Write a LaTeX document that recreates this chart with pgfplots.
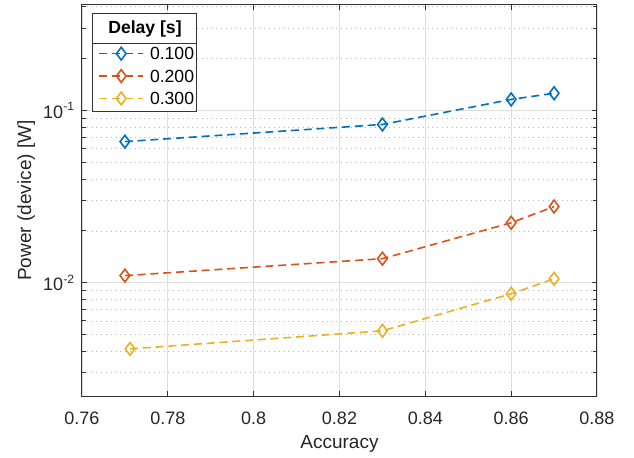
\documentclass[border=0pt]{standalone}
\usepackage{fontspec}
\setmainfont{Liberation Sans}
\usepackage{pgfplots}
\pgfplotsset{compat=1.18}
\usetikzlibrary{calc}

\definecolor{mblue}{RGB}{0,114,189}
\definecolor{mred}{RGB}{217,83,25}
\definecolor{myel}{RGB}{237,177,32}

\begin{document}
\begin{tikzpicture}
\begin{axis}[
    scale only axis, width=257.5pt, height=195.5pt,
    xmin=0.76, xmax=0.88, ymode=log, ymin=0.0022, ymax=0.41,
    xtick={0.76,0.78,0.80,0.82,0.84,0.86,0.88},
    xticklabels={0.76,0.78,0.8,0.82,0.84,0.86,0.88},
    ytick={0.01,0.1},
    yticklabels={10\textsuperscript{-2},10\textsuperscript{-1}},
    minor ytick={0.003,0.004,0.005,0.006,0.007,0.008,0.009,0.02,0.03,0.04,0.05,0.06,0.07,0.08,0.09,0.2,0.3,0.4},
    grid=both,
    major grid style={solid, line width=0.4pt, color=black!13},
    minor grid style={dotted, line width=0.35pt, color=black!28},
    tick align=inside, major tick length=2.5pt, minor tick length=2pt,
    axis line style={black!80, line width=0.5pt},
    every tick/.style={black!80, line width=0.5pt},
    ticklabel style={font=\fontsize{9}{10}\selectfont, text=black!85},
    xticklabel style={yshift=-4.5pt},
    xlabel={Accuracy}, ylabel={Power (device) [W]},
    label style={font=\fontsize{9.5}{11}\selectfont, text=black!85},
    xlabel style={at={(axis description cs:0.5,-0.1330)}, anchor=base},
    ylabel style={at={(axis description cs:-0.0990,0.5)}, anchor=base},
    legend cell align=left,
    legend image code/.code={\draw[mark repeat=2,mark phase=2,#1] plot coordinates {(0pt,0pt) (11pt,0pt) (22pt,0pt)};},
    legend style={draw=none, fill=none, inner sep=0pt, row sep=4.8pt,
        at={(rel axis cs:0.0311,0.893)}, anchor=north west,
        font=\fontsize{8.8}{10}\selectfont,
        nodes={inner sep=0pt, text height=6.3pt, text depth=0pt},
        /tikz/every odd column/.append style={column sep=3pt}},
    every axis plot/.append style={line width=0.8pt, dash pattern=on 4pt off 2.4pt,
        mark=diamond, mark size=3.2pt, mark options={solid}},
]
\draw[fill=white, draw=black!80, line width=0.5pt] (rel axis cs:0.02136,0.7289) rectangle (rel axis cs:0.2233,0.9770);
\draw[black!80, line width=0.5pt] (rel axis cs:0.02136,0.9028) -- (rel axis cs:0.2233,0.9028);
\node[font=\fontsize{8.8}{10}\selectfont\bfseries] at (rel axis cs:0.1223,0.9399) {Delay [s]};
\coordinate (o) at (rel axis cs:0,0);

\addplot[color=mblue] coordinates {(0.77,0.066) (0.83,0.083) (0.86,0.116) (0.87,0.126)};
\addlegendentry{0.100}
\addplot[color=mred] coordinates {(0.77,0.0110) (0.83,0.0138) (0.86,0.0223) (0.87,0.0277)};
\addlegendentry{0.200}
\addplot[color=myel] coordinates {(0.7712,0.00413) (0.83,0.00526) (0.86,0.00863) (0.87,0.01055)};
\addlegendentry{0.300}
\end{axis}
\pgfresetboundingbox
\path[use as bounding box] ($(o)+(-41pt,-30.5pt)$) rectangle ($(o)+(276pt,198pt)$);
\end{tikzpicture}
\end{document}
